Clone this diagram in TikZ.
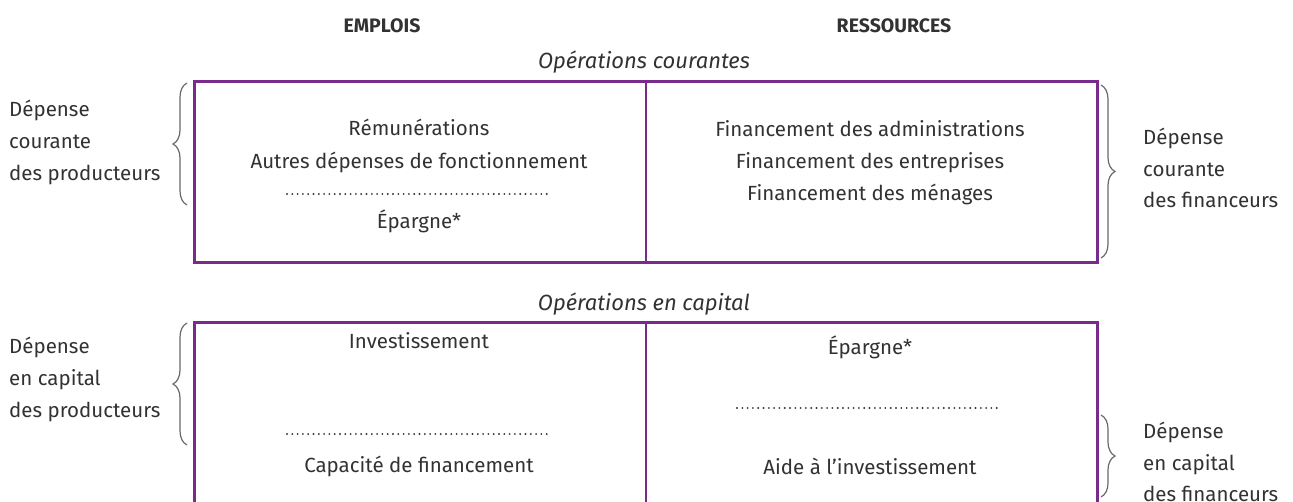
\documentclass[tikz,border=0pt]{standalone}
\usepackage{fontspec}
\setmainfont{Fira Sans}
\usetikzlibrary{decorations.pathreplacing}
\definecolor{frame}{RGB}{122,42,138}
\definecolor{ink}{RGB}{50,50,50}
\definecolor{bracegray}{RGB}{105,105,105}
\definecolor{dotgray}{RGB}{55,55,55}
\begin{document}
\begin{tikzpicture}[x=1pt,y=-1pt,
  txt/.style={inner sep=0pt,anchor=base,text=ink,font=\fontsize{20.5}{23}\selectfont},
  side/.style={txt,anchor=base west,align=left},
  head/.style={txt,font=\fontsize{19.5}{22}\selectfont\bfseries},
  optitle/.style={txt,font=\fontsize{22}{24}\selectfont\itshape},
  panel/.style={draw=frame,line width=2.8pt,inner sep=0pt,anchor=north west},
  divider/.style={draw=frame,line width=2.8pt},
  dotline/.style={draw=dotgray,line width=2.1pt,line cap=round,dash pattern=on 0pt off 5.3pt},
  bracel/.style={draw=bracegray,line width=1.2pt,decorate,decoration={brace,amplitude=14pt}}
]
\clip (0,0) rectangle (1293,501);

% column headings
\node[head] (emplois) at (382,32) {EMPLOIS};
\node[head] (ressources) at (894,32) {RESSOURCES};

% current operations
\node[optitle] (opcour) at (644,68) {Opérations courantes};
\node[panel,minimum width=903pt,minimum height=181pt] (cour) at (193,80) {};
\draw[divider] (cour.north) -- (cour.south);

\node[txt] (remu) at (419,135) {Rémunérations};
\node[txt] (autres) at (419,168) {Autres dépenses de fonctionnement};
\coordinate (d1a) at (287,194);
\coordinate (d1b) at (550,194);
\draw[dotline] (d1a) -- (d1b);
\node[txt] (epa1) at (419,228) {Épargne*};

\node[txt] (fadm) at (870,136) {Financement des administrations};
\node[txt] (fent) at (870,168) {Financement des entreprises};
\node[txt] (fmen) at (870,200) {Financement des ménages};

\node[side] (l1a) at (9,116) {Dépense};
\node[side] (l1b) at (9,148) {courante};
\node[side] (l1c) at (9,180) {des producteurs};
\coordinate (b1s) at (187,205);
\coordinate (b1e) at (187,83);
\draw[bracel] (b1s) -- (b1e);

\node[side] (r1a) at (1143,144) {Dépense};
\node[side] (r1b) at (1143,176) {courante};
\node[side] (r1c) at (1143,207) {des financeurs};
\coordinate (b2s) at (1101,85);
\coordinate (b2e) at (1101,258);
\draw[bracel] (b2s) -- (b2e);

% capital operations
\node[optitle] (opcap) at (644,310) {Opérations en capital};
\node[panel,minimum width=903pt,minimum height=200pt] (cap) at (193,321) {};
\draw[divider] (cap.north) -- (cap.south);

\node[txt] (inv) at (419,348) {Investissement};
\coordinate (d2a) at (287,434);
\coordinate (d2b) at (550,434);
\draw[dotline] (d2a) -- (d2b);
\node[txt] (capf) at (419,472) {Capacité de financement};

\node[txt] (epa2) at (870,354) {Épargne*};
\coordinate (d3a) at (737,408);
\coordinate (d3b) at (1000,408);
\draw[dotline] (d3a) -- (d3b);
\node[txt] (aide) at (870,474) {Aide à l’investissement};

\node[side] (l2a) at (9,353) {Dépense};
\node[side] (l2b) at (9,385) {en capital};
\node[side] (l2c) at (9,417) {des producteurs};
\coordinate (b3s) at (187,445);
\coordinate (b3e) at (187,323);
\draw[bracel] (b3s) -- (b3e);

\node[side] (r2a) at (1143,438) {Dépense};
\node[side] (r2b) at (1143,470) {en capital};
\node[side] (r2c) at (1143,501) {des financeurs};
\coordinate (b4s) at (1101,415);
\coordinate (b4e) at (1101,497);
\draw[bracel] (b4s) -- (b4e);
\end{tikzpicture}
\end{document}
